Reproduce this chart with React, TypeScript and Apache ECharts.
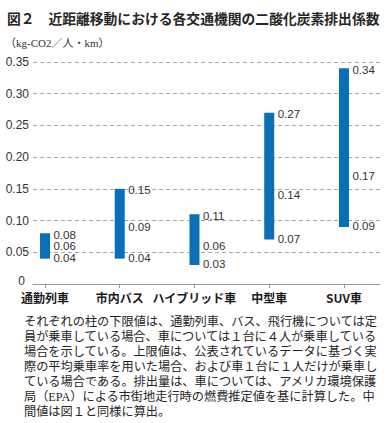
import React, { useEffect, useRef } from 'react';
import * as echarts from 'echarts';

const categories = ['通勤列車', '市内バス', 'ハイブリッド車', '中型車', 'SUV車'];
const lowValues = [0.04, 0.04, 0.03, 0.07, 0.09];
const midValues = [0.06, 0.09, 0.06, 0.14, 0.17];
const highValues = [0.08, 0.15, 0.11, 0.27, 0.34];
const yMin = 0;
const yMax = 0.35;
const yInterval = 0.05;

const titleText = '図２　近距離移動における各交通機関の二酸化炭素排出係数';
const unitText = '（kg-CO2／人・km）';
const captionLines = [
  'それぞれの柱の下限値は、通勤列車、バス、飛行機については定',
  '員が乗車している場合、車については１台に４人が乗車している',
  '場合を示している。上限値は、公表されているデータに基づく実',
  '際の平均乗車率を用いた場合、および車１台に１人だけが乗車し',
  'ている場合である。排出量は、車については、アメリカ環境保護',
  '局（EPA）による市街地走行時の燃費推定値を基に計算した。中',
  '間値は図１と同様に算出。',
];

const BAR_COLOR = '#0b6fb6';
const TEXT = '#262626';
const LATIN = '"Liberation Sans", Arial, sans-serif';
const CJK = '"Noto Sans CJK JP", sans-serif';
const SERIF = '"Liberation Serif", "DejaVu Serif", "Noto Sans CJK JP", serif';

export default function App() {
  const ref = useRef<HTMLDivElement>(null);

  useEffect(() => {
    document.body.style.margin = '0';
    if (!ref.current) return;
    const chart = echarts.init(ref.current, null, { renderer: 'svg' });

    const data = categories.map((_, i) => [i, lowValues[i], highValues[i], midValues[i]]);

    const gridTop = 62;
    const gridBottom = 139;

    const option: any = {
      animation: false,
      backgroundColor: '#ffffff',
      grid: [
        { left: 33, right: 8, top: gridTop, bottom: gridBottom },
        { left: 7.6, width: 373.75, top: gridTop, bottom: gridBottom },
      ],
      xAxis: [
        {
          gridIndex: 0,
          type: 'value',
          min: 0,
          max: 1,
          axisLine: { show: true, lineStyle: { color: '#9a9a9a', width: 1 } },
          axisTick: { show: false },
          axisLabel: { show: false },
          splitLine: { show: false },
        },
        {
          gridIndex: 1,
          type: 'category',
          data: categories,
          boundaryGap: true,
          axisLine: { show: false },
          axisTick: { show: true, alignWithLabel: true, length: 4, lineStyle: { color: '#9a9a9a' } },
          axisLabel: {
            show: true,
            interval: 0,
            margin: 7,
            color: '#1a1a1a',
            fontSize: 12,
            fontWeight: 'bold',
            fontFamily: CJK,
          },
          splitLine: { show: false },
        },
      ],
      yAxis: [
        {
          gridIndex: 0,
          type: 'value',
          min: yMin,
          max: yMax,
          interval: yInterval,
          axisLine: { show: false },
          axisTick: { show: false },
          axisLabel: {
            margin: 4,
            color: '#333333',
            fontSize: 12,
            fontFamily: LATIN,
            formatter: (v: number) => (v === 0 ? '{z|0}' : v.toFixed(2)),
            rich: {
              z: {
                color: '#333333',
                fontSize: 12,
                fontFamily: LATIN,
                padding: [0, 4, 7, 0],
              },
            },
          },
          splitLine: { show: true, lineStyle: { color: '#a8a8a8', type: [4, 3], width: 1 } },
        },
        {
          gridIndex: 1,
          type: 'value',
          min: yMin,
          max: yMax,
          show: false,
        },
      ],
      series: [
        {
          type: 'custom',
          xAxisIndex: 1,
          yAxisIndex: 1,
          data,
          renderItem: (_params: any, api: any) => {
            const i = api.value(0);
            const lo = api.value(1);
            const hi = api.value(2);
            const md = api.value(3);
            const pLo = api.coord([i, lo]);
            const pHi = api.coord([i, hi]);
            const pMd = api.coord([i, md]);
            const w = 10;
            const x0 = pLo[0] - w / 2;
            const lab = (v: number, y: number) => ({
              type: 'text',
              style: {
                text: v.toFixed(2),
                x: x0 + w + 3.5,
                y,
                fill: '#333333',
                fontSize: 11.5,
                fontFamily: LATIN,
                align: 'left',
                verticalAlign: 'middle',
              },
            });
            return {
              type: 'group',
              children: [
                {
                  type: 'rect',
                  shape: { x: x0, y: pHi[1], width: w, height: pLo[1] - pHi[1] },
                  style: { fill: BAR_COLOR },
                },
                lab(hi, pHi[1] + 1.5),
                lab(md, pMd[1]),
                lab(lo, pLo[1] - 0.5),
              ],
            };
          },
        },
      ],
      graphic: [
        {
          type: 'text',
          left: 7,
          top: 11,
          style: {
            text: titleText,
            fill: TEXT,
            fontSize: 13.8,
            fontWeight: 'bold',
            fontFamily: CJK,
          },
        },
        {
          type: 'text',
          left: 5,
          top: 37,
          style: {
            text: unitText,
            fill: '#333333',
            fontSize: 11,
            fontFamily: SERIF,
          },
        },
        ...captionLines.map((line, k) => ({
          type: 'text',
          left: 24,
          top: 316 + k * 15,
          style: {
            text: line,
            fill: TEXT,
            fontSize: 12.2,
            fontFamily: SERIF,
          },
        })),
      ],
    };

    chart.setOption(option);
    return () => chart.dispose();
  }, []);

  return <div ref={ref} style={{ width: 388, height: 423 }} />;
}
